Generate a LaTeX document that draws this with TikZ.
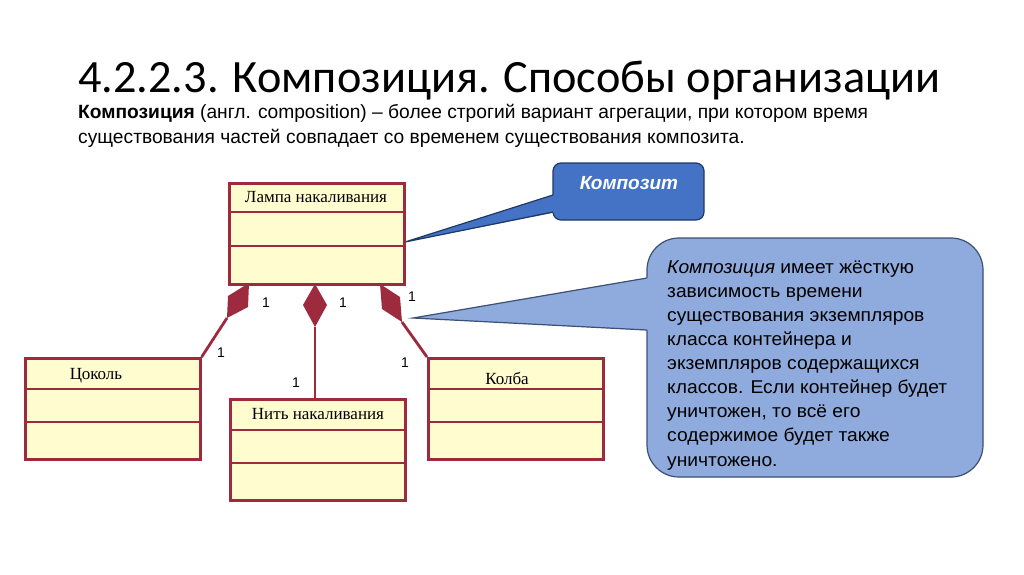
\documentclass[tikz,border=0pt]{standalone}
\usepackage{fontspec}
\setmainfont{Liberation Sans}
\newfontfamily\titlefont{Carlito}
\newfontfamily\descfont[FakeStretch=1.04]{Liberation Sans}
\newfontfamily\seriffont{Liberation Serif}
\definecolor{umlred}{HTML}{9E2A3E}
\definecolor{umlfill}{HTML}{FFFCCF}
\definecolor{blueA}{HTML}{4472C4}
\definecolor{blueAline}{HTML}{1F3864}
\definecolor{blueB}{HTML}{8FAADC}
\definecolor{blueBline}{HTML}{3C4F75}
\tikzset{
  umlbox/.style={draw=umlred, fill=umlfill, line width=2.6pt, minimum width=175pt, minimum height=101pt, anchor=north west, inner sep=0pt},
  umlline/.style={draw=umlred, line width=2.6pt},
  conn/.style={draw=umlred, line width=2.8pt},
  dia/.style={fill=umlred},
  lbl/.style={font=\seriffont\fontsize{17}{20}\selectfont, inner sep=0pt},
  mult/.style={font=\fontsize{14}{17}\selectfont, inner sep=0pt},
}
\begin{document}
\begin{tikzpicture}[x=1pt,y=-1pt]
\useasboundingbox[fill=white] (0,0) rectangle (1024,574);
% title
\node[anchor=base west, inner sep=0pt, font=\titlefont\fontsize{46.3}{56}\selectfont] (title) at (78,92) {4.2.2.3. Композиция. Способы организации};
\node[anchor=base west, inner sep=0pt, align=left, font=\fontsize{19.2}{25}\selectfont] (sub) at (78,143)
 {\textbf{Композиция} (англ. composition) – более строгий вариант агрегации, при котором время\\существования частей совпадает со временем существования композита.};

% callout 1
\coordinate (tip1) at (405,242);
\coordinate (b1a) at (553,195);
\coordinate (b1b) at (553,212);
\path[fill=blueA, draw=blueAline, line width=1.2pt, rounded corners=8pt] (553,163) rectangle (704,220);
\fill[blueA] (tip1) -- (554.5,194.5) -- (554.5,212.5) -- cycle;
\draw[blueAline, line width=1.2pt] (b1a) -- (tip1) -- (b1b);
\node[font=\bfseries\itshape\fontsize{19}{22}\selectfont, text=white, inner sep=0pt] (comp) at (629,183) {Композит};

% callout 2
\coordinate (tip2) at (413,318);
\coordinate (b2a) at (647,278);
\coordinate (b2b) at (647,330);
\path[fill=blueB, draw=blueBline, line width=1.2pt, rounded corners=32pt] (647,238) rectangle (983,477);
\fill[blueB] (tip2) -- (648.5,277.5) -- (648.5,330.5) -- cycle;
\draw[blueBline, line width=1.2pt] (b2a) -- (tip2) -- (b2b);
\node[anchor=base west, inner sep=0pt, align=left, font=\descfont\fontsize{18.5}{24.1}\selectfont] (desc) at (667,466)
 {\textit{Композиция} имеет жёсткую\\зависимость времени\\существования экземпляров\\класса контейнера и\\экземпляров содержащихся\\классов. Если контейнер будет\\уничтожен, то всё его\\содержимое будет также\\уничтожено.};

% class boxes
\node[umlbox] (lamp) at (228,182) {};
\node[umlbox] (tsokol) at (24,357) {};
\node[umlbox] (nit) at (229,398) {};
\node[umlbox] (kolba) at (427,357) {};
\foreach \b/\a/\c in {lamp/30/64, tsokol/32/65, nit/32/65, kolba/32/65}{
  \draw[umlline] ([yshift=-\a pt]\b.north west) -- ([yshift=-\a pt]\b.north east);
  \draw[umlline] ([yshift=-\c pt]\b.north west) -- ([yshift=-\c pt]\b.north east);
}
\node[lbl] (lampt) at (316,197) {Лампа накаливания};
\node[lbl] (tsokolt) at (96,376) {Цоколь};
\node[lbl] (nitt) at (318,414) {Нить накаливания};
\node[lbl] (kolbat) at (507,378) {Колба};

% diamonds
\coordinate (dl1) at (249,283); \coordinate (dl2) at (248,307);
\coordinate (dl3) at (227,318); \coordinate (dl4) at (228,296);
\coordinate (dm1) at (315,284); \coordinate (dm2) at (327,305);
\coordinate (dm3) at (315,327); \coordinate (dm4) at (303,305);
\coordinate (dr1) at (380,284); \coordinate (dr2) at (400,297);
\coordinate (dr3) at (402,322); \coordinate (dr4) at (382,309);
\fill[dia] (dl1) -- (dl2) -- (dl3) -- (dl4) -- cycle;
\fill[dia] (dm1) -- (dm2) -- (dm3) -- (dm4) -- cycle;
\fill[dia] (dr1) -- (dr2) -- (dr3) -- (dr4) -- cycle;
\draw[conn] (dl3) -- (tsokol.north east);
\draw[conn] (dm3) -- (nit.north -| dm3);
\draw[conn] (dr3) -- (kolba.north west);

% multiplicities
\node[mult] (m1) at (266,303) {1};
\node[mult] (m2) at (343,303) {1};
\node[mult] (m3) at (412,297) {1};
\node[mult] (m4) at (221,353) {1};
\node[mult] (m5) at (405,363) {1};
\node[mult] (m6) at (296,383) {1};
\end{tikzpicture}
\end{document}
